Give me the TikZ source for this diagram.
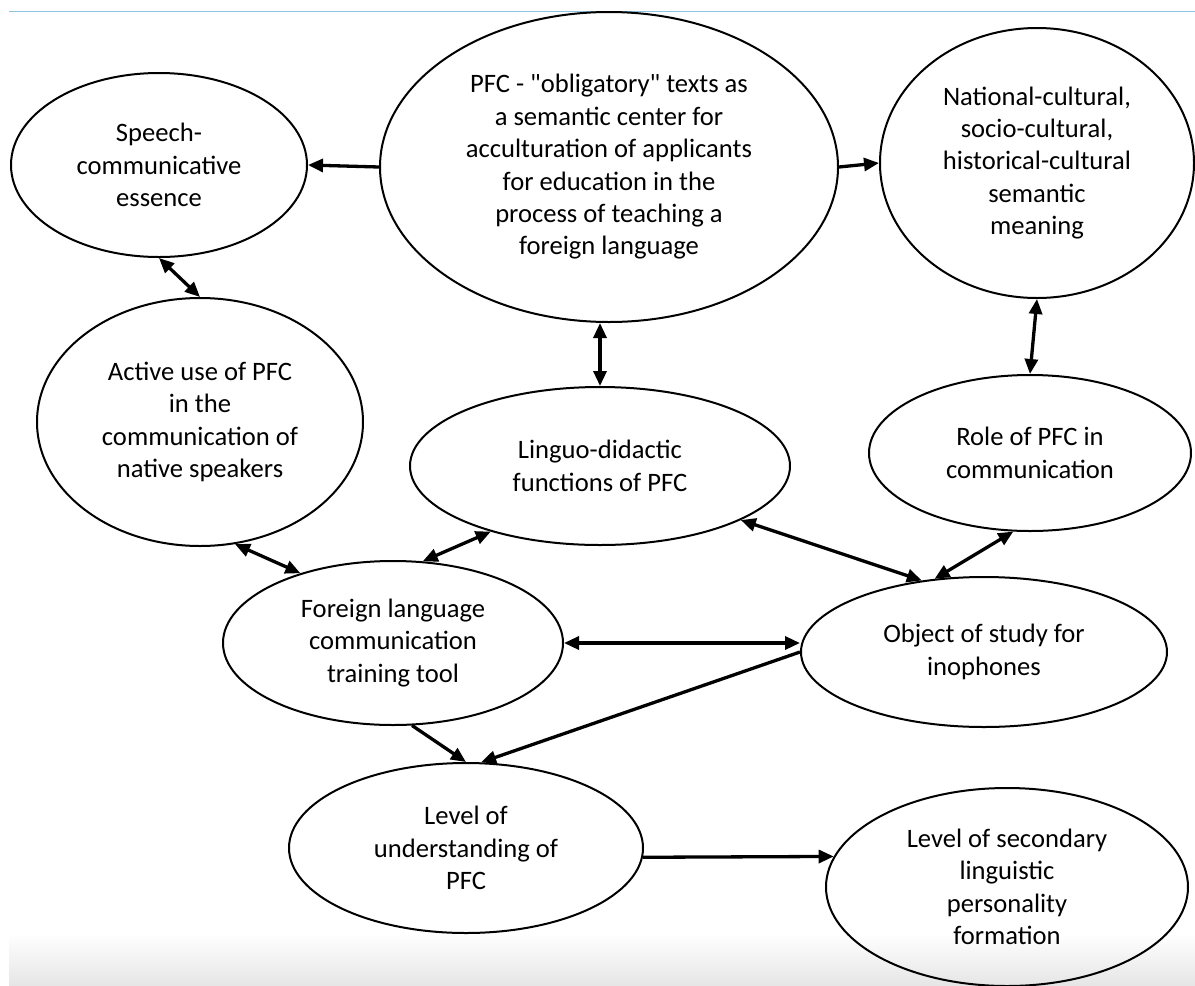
\documentclass[tikz,border=0pt]{standalone}
\usepackage{fontspec}
\setmainfont{Carlito}[Ligatures=TeXOff]
\usetikzlibrary{shapes.geometric,arrows.meta}
\definecolor{topline}{RGB}{140,196,224}
\begin{document}
\begin{tikzpicture}[x=1pt,y=-1pt,
  ell/.style={draw, line width=2pt, ellipse, inner sep=-40pt, align=center,
    font=\fontsize{26.6}{32.4}\selectfont},
  arr/.style={line width=3.3pt, -{Triangle[length=15pt,width=13pt]}},
  darr/.style={line width=3.3pt, {Triangle[length=15pt,width=13pt]}-{Triangle[length=15pt,width=13pt]}}]
\useasboundingbox (0,0) rectangle (1195,986);
\shade[top color=white, bottom color=black!10] (9,933) rectangle (1195,986);
\draw[topline, line width=1.2pt] (9,11.5) -- (1195,11.5);

\node[ell, minimum width=296pt, minimum height=184pt] (speech) at (159,165)
  {Speech-\\communicative\\essence};
\node[ell, minimum width=458pt, minimum height=310pt] (central) at (609,167)
  {PFC - "obligatory" texts as\\a semantic center for\\acculturation of applicants\\for education in the\\process of teaching a\\foreign language};
\node[ell, minimum width=314pt, minimum height=270pt] (nat) at (1037,163)
  {National-cultural,\\socio-cultural,\\historical-cultural\\semantic\\meaning};
\node[ell, minimum width=326pt, minimum height=248pt] (active) at (200,422)
  {Active use of PFC\\in the\\communication of\\native speakers};
\node[ell, minimum width=380pt, minimum height=158pt] (linguo) at (600,466)
  {Linguo-didactic\\functions of PFC};
\node[ell, minimum width=322pt, minimum height=156pt] (role) at (1030,453)
  {Role of PFC in\\communication};
\node[ell, minimum width=340pt, minimum height=164pt] (foreign) at (393,643)
  {Foreign language\\communication\\training tool};
\node[ell, minimum width=366pt, minimum height=150pt] (object) at (984,652)
  {Object of study for\\inophones};
\node[ell, minimum width=354pt, minimum height=170pt] (level) at (466,848)
  {Level of\\understanding of\\PFC};
\node[ell, minimum width=362pt, minimum height=198pt] (secondary) at (1007,887)
  {Level of secondary\\linguistic\\personality\\formation};

\draw[arr] (central.west) -- (speech.east);
\draw[arr] (central.east) -- (nat.west);
\draw[darr] (speech.south) -- (active.north);
\draw[darr] (central.south -| linguo.north) -- (linguo.north);
\draw[darr] (nat.south) -- (role.north);
\draw[darr] (active.-74) -- (foreign.143);
\draw[darr] (linguo.-149) -- (foreign.70);
\draw[darr] (linguo.-21) -- (object.131);
\draw[darr] (role.-102) -- (object.124);
\draw[darr] (foreign.east) -- (object.west |- foreign.east);
\draw[arr] (object.west) -- (level.80);
\draw[arr] (foreign.-77) -- (level.north);
\draw[arr] (level.-3) -- (secondary.170);
\end{tikzpicture}
\end{document}
